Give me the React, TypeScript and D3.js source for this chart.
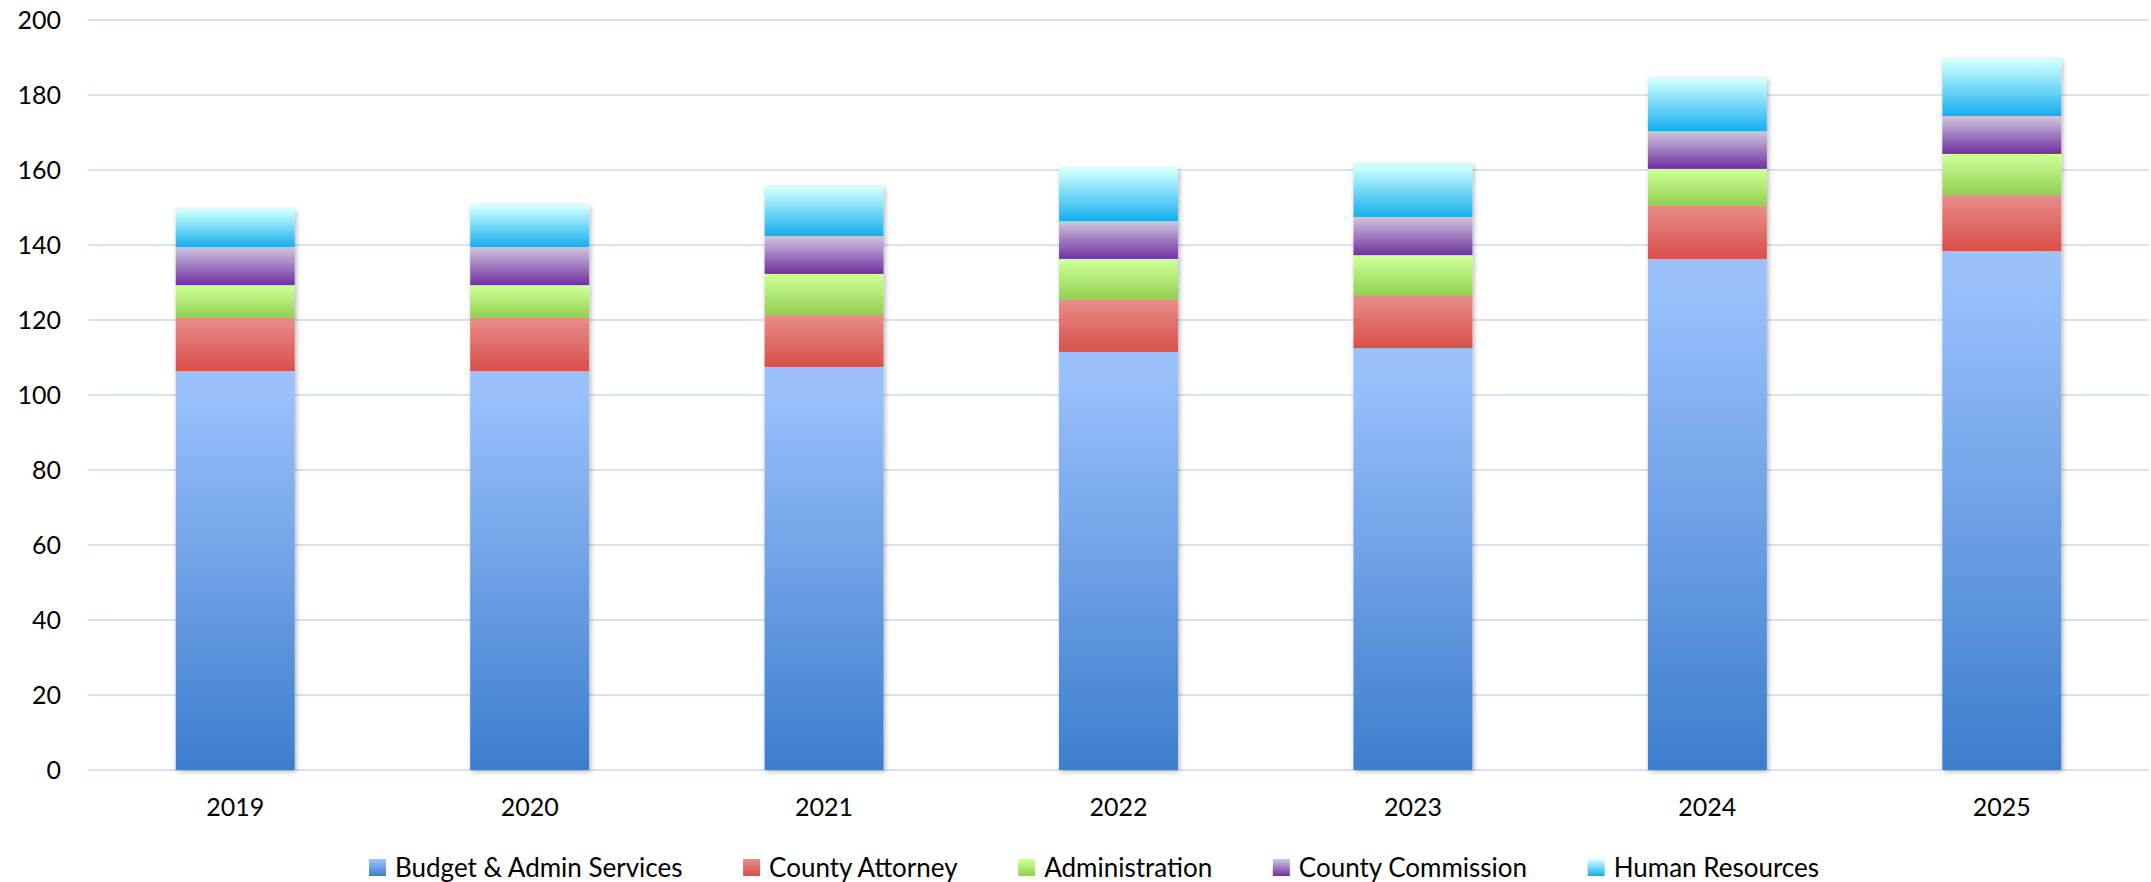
import React, { useEffect, useRef } from "react";
import * as d3 from "d3";

const years = ["2019", "2020", "2021", "2022", "2023", "2024", "2025"];
const seriesNames = ["Budget & Admin Services", "County Attorney", "Administration", "County Commission", "Human Resources"];
const budgetAdmin = [106.4, 106.4, 107.5, 111.5, 112.5, 136.3, 138.4];
const countyAttorney = [14.2, 14.2, 13.8, 13.8, 13.9, 14.2, 14.9];
const administration = [8.7, 8.7, 11.0, 11.0, 10.9, 9.8, 11.0];
const countyCommission = [10.2, 10.2, 10.1, 10.1, 10.2, 10.1, 10.1];
const humanResources = [10.1, 11.2, 13.3, 14.1, 14.1, 14.1, 15.2];
const yTicks = [0, 20, 40, 60, 80, 100, 120, 140, 160, 180, 200];

// top / bottom colours of each series gradient
const gradTop = ["#9ac1fc", "#e88a86", "#ccff96", "#cbc0dc", "#ccffff"];
const gradBottom = ["#3d7ecd", "#d84f49", "#92d050", "#7030a0", "#16aeee"];

const App: React.FC = () => {
  const svgRef = useRef<SVGSVGElement | null>(null);

  useEffect(() => {
    if (!svgRef.current) return;
    const svg = d3.select(svgRef.current);
    svg.selectAll("*").remove();

    const width = 2151;
    const height = 882;
    const margin = { top: 20, right: 2, bottom: 112, left: 88 };
    const font = "Lato, 'Noto Sans', sans-serif";

    const series = [budgetAdmin, countyAttorney, administration, countyCommission, humanResources];
    const rows = years.map((y, i) => {
      const r: Record<string, number | string> = { year: y };
      seriesNames.forEach((s, k) => (r[s] = series[k][i]));
      return r;
    });
    const stacked = d3.stack<Record<string, number | string>>().keys(seriesNames)(rows as any);

    const x = d3
      .scaleBand<string>()
      .domain(years)
      .range([margin.left, width - margin.right])
      .paddingInner(0.596)
      .paddingOuter(0.298);

    const y = d3
      .scaleLinear()
      .domain([0, 200])
      .range([height - margin.bottom, margin.top]);

    const defs = svg.append("defs");
    seriesNames.forEach((_, k) => {
      const g = defs
        .append("linearGradient")
        .attr("id", `grad${k}`)
        .attr("x1", 0)
        .attr("y1", 0)
        .attr("x2", 0)
        .attr("y2", 1);
      g.append("stop").attr("offset", "5%").attr("stop-color", gradTop[k]);
      g.append("stop").attr("offset", "100%").attr("stop-color", gradBottom[k]);
    });
    const shadow = defs
      .append("filter")
      .attr("id", "shadow")
      .attr("x", "-20%")
      .attr("y", "-10%")
      .attr("width", "140%")
      .attr("height", "120%");
    shadow
      .append("feDropShadow")
      .attr("dx", 1.5)
      .attr("dy", 1.5)
      .attr("stdDeviation", 2.5)
      .attr("flood-color", "#000")
      .attr("flood-opacity", 0.3);

    // gridlines
    svg
      .append("g")
      .selectAll("line")
      .data(yTicks)
      .join("line")
      .attr("x1", margin.left)
      .attr("x2", width - margin.right)
      .attr("y1", d => y(d))
      .attr("y2", d => y(d))
      .attr("stroke", "#d7e2f3")
      .attr("stroke-width", 2);

    // y labels
    svg
      .append("g")
      .selectAll("text")
      .data(yTicks)
      .join("text")
      .attr("x", 61)
      .attr("y", d => y(d))
      .attr("dy", "0.35em")
      .attr("text-anchor", "end")
      .style("font-family", font)
      .style("font-size", "25px")
      .style("fill", "#000")
      .text(d => String(d));

    // bars
    const barGroups = svg
      .append("g")
      .selectAll("g")
      .data(years)
      .join("g")
      .attr("filter", "url(#shadow)");

    barGroups.each(function (yr, i) {
      const g = d3.select(this);
      stacked.forEach((layer, k) => {
        const seg = layer[i];
        g.append("rect")
          .attr("x", x(yr) as number)
          .attr("width", x.bandwidth())
          .attr("y", y(seg[1]))
          .attr("height", y(seg[0]) - y(seg[1]))
          .attr("fill", `url(#grad${k})`);
      });
    });

    // x labels
    svg
      .append("g")
      .selectAll("text")
      .data(years)
      .join("text")
      .attr("x", d => (x(d) as number) + x.bandwidth() / 2)
      .attr("y", 816)
      .attr("text-anchor", "middle")
      .style("font-family", font)
      .style("font-size", "25px")
      .style("fill", "#000")
      .text(d => d);

    // legend, spread between the left and right ends seen in the original
    const legendLeft = 369;
    const legendRight = 1819;
    const legend = svg.append("g");
    const items = legend
      .selectAll("g")
      .data(seriesNames)
      .join("g");
    items
      .append("rect")
      .attr("x", 0)
      .attr("y", -8.5)
      .attr("width", 17)
      .attr("height", 17)
      .attr("fill", (_, k) => `url(#grad${k})`);
    items
      .append("text")
      .attr("x", 26)
      .attr("y", 0)
      .attr("dy", "0.35em")
      .style("font-family", font)
      .style("font-size", "26px")
      .style("fill", "#000")
      .text(d => d);

    let offset = 0;
    const widths: number[] = [];
    items.each(function () {
      const t = d3.select(this).select("text").node() as SVGTextElement;
      widths.push(26 + t.getComputedTextLength());
    });
    const gap = (legendRight - legendLeft - d3.sum(widths)) / (widths.length - 1);
    items.attr("transform", (_, k) => {
      const tx = legendLeft + offset;
      offset += widths[k] + gap;
      return `translate(${tx},867.5)`;
    });
  }, []);

  return (
    <svg
      ref={svgRef}
      width={2151}
      height={882}
      style={{ position: "absolute", left: 0, top: 0, display: "block", background: "#fff" }}
    />
  );
};

export default App;
